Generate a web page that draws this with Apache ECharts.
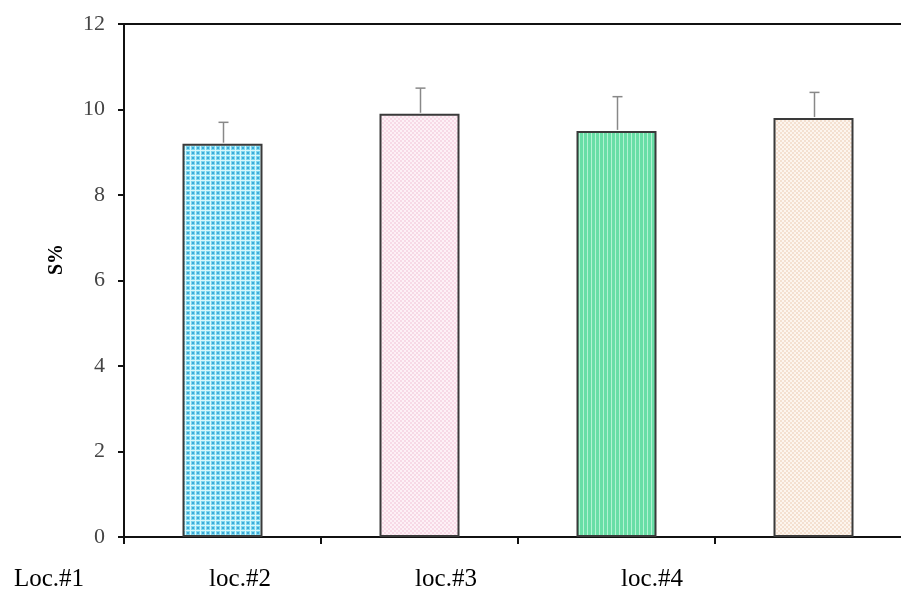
<!DOCTYPE html>
<html>
<head>
<meta charset="utf-8">
<script src="https://cdn.jsdelivr.net/npm/echarts@6/dist/echarts.min.js"></script>
<style>html,body{margin:0;padding:0;background:#fff}#c{width:901px;height:593px}</style>
</head>
<body>
<div id="c"></div>
<script>
// ---- data ----
var categories = ['Loc.#1', 'loc.#2', 'loc.#3', 'loc.#4'];
var meanValues = [9.2, 9.9, 9.5, 9.8];
var errorValues = [0.5, 0.6, 0.8, 0.6];
var yTicks = [0, 2, 4, 6, 8, 10, 12];

function makePattern(size, draw) {
  var c = document.createElement('canvas');
  c.width = size[0]; c.height = size[1];
  var g = c.getContext('2d');
  draw(g, size[0], size[1]);
  return { image: c, repeat: 'repeat' };
}
var patterns = [
  makePattern([5, 5], function (g) {
    g.fillStyle = '#d8f8fc'; g.fillRect(0, 0, 5, 5);
    g.fillStyle = '#7ed8ef'; g.fillRect(1, 1, 4, 4);
    g.fillStyle = '#3eaad8'; g.fillRect(2, 2, 2, 2);
  }),
  makePattern([4, 4], function (g) {
    g.fillStyle = '#fdf1f6'; g.fillRect(0, 0, 4, 4);
    g.fillStyle = '#f7d9e6'; g.fillRect(0, 0, 2, 2);
    g.fillRect(2, 2, 2, 2);
  }),
  makePattern([4, 4], function (g) {
    g.fillStyle = '#68dea6'; g.fillRect(0, 0, 4, 4);
    g.fillStyle = '#b2f2d2'; g.fillRect(3, 0, 1, 4);
  }),
  makePattern([4, 4], function (g) {
    g.fillStyle = '#fdf5ee'; g.fillRect(0, 0, 4, 4);
    g.fillStyle = '#f4e0d0'; g.fillRect(0, 0, 2, 2);
    g.fillRect(2, 2, 2, 2);
  })
];

var chart = echarts.init(document.getElementById('c'));
var font = 'Liberation Serif, Times New Roman, serif';

chart.setOption({
  animation: false,
  grid: [
    { left: 124, width: 788, top: 24, height: 513, show: true, borderColor: '#111', borderWidth: 2, backgroundColor: 'transparent', outerBoundsMode: 'none', containLabel: false },
    { left: -69, width: 824, top: 24, height: 513, outerBoundsMode: 'none', containLabel: false }
  ],
  xAxis: [
    {
      type: 'category', gridIndex: 0, data: categories,
      axisLine: { lineStyle: { color: '#111', width: 2 } },
      axisTick: { show: true, length: 7, lineStyle: { color: '#111', width: 2 } },
      axisLabel: { show: false }
    },
    {
      type: 'category', gridIndex: 1, data: categories,
      axisLine: { show: false }, axisTick: { show: false },
      axisLabel: {
        margin: 30, fontFamily: font, fontSize: 25, color: '#000',
        formatter: function (v, i) { return i === 0 ? '{a|' + v + '}' : v; },
        rich: { a: { fontFamily: font, fontSize: 25, color: '#000', padding: [0, 0, 0, 30] } }
      }
    }
  ],
  yAxis: [
    {
      type: 'value', gridIndex: 0, min: yTicks[0], max: yTicks[yTicks.length - 1], interval: 2,
      name: 'S%', nameLocation: 'middle', nameGap: 57, nameRotate: 90,
      nameTextStyle: { fontFamily: font, fontSize: 20, fontWeight: 'bold', color: '#000', padding: [0, 0, 0, 42] },
      axisLine: { show: true, lineStyle: { color: '#111', width: 2 } },
      axisTick: { show: true, length: 6, lineStyle: { color: '#111', width: 2 } },
      axisLabel: { margin: 19, fontFamily: font, fontSize: 22, color: '#444' },
      splitLine: { show: false }
    },
    { type: 'value', gridIndex: 1, show: false, min: 0, max: 12 }
  ],
  series: [
    {
      type: 'bar', xAxisIndex: 0, yAxisIndex: 0, barWidth: 80,
      data: meanValues.map(function (v, i) {
        return { value: v, itemStyle: { color: patterns[i] } };
      }),
      itemStyle: { borderColor: '#3a3a3a', borderWidth: 2 },
      z: 2
    },
    {
      type: 'custom', xAxisIndex: 0, yAxisIndex: 0, z: 3,
      data: meanValues.map(function (v, i) { return [i, v, v + errorValues[i]]; }),
      renderItem: function (params, api) {
        var p0 = api.coord([api.value(0), api.value(1)]);
        var p1 = api.coord([api.value(0), api.value(2)]);
        var x = Math.round(p0[0]) + 0.5;
        return {
          type: 'group',
          children: [
            { type: 'line', shape: { x1: x, y1: p0[1] - 1, x2: x, y2: p1[1] }, style: { stroke: '#888', lineWidth: 1.5 } },
            { type: 'line', shape: { x1: x - 5, y1: p1[1], x2: x + 5, y2: p1[1] }, style: { stroke: '#888', lineWidth: 1.5 } }
          ]
        };
      }
    }
  ]
});
</script>
</body>
</html>
